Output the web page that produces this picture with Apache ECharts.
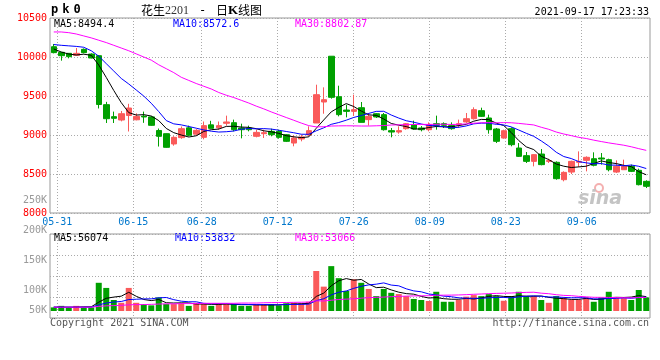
<!DOCTYPE html>
<html><head><meta charset="utf-8">
<script src="https://cdn.jsdelivr.net/npm/echarts@6.0.0/dist/echarts.min.js"></script>
<style>html,body{margin:0;padding:0;background:#fff}#c{width:660px;height:360px}</style>
</head><body><div id="c"></div><script>
const dates = ['05-28','05-31','06-01','06-02','06-03','06-04','06-07','06-08','06-09','06-10','06-11','06-15','06-16','06-17','06-18','06-21','06-22','06-23','06-24','06-25','06-28','06-29','06-30','07-01','07-02','07-05','07-06','07-07','07-08','07-09','07-12','07-13','07-14','07-15','07-16','07-19','07-20','07-21','07-22','07-23','07-26','07-27','07-28','07-29','07-30','08-02','08-03','08-04','08-05','08-06','08-09','08-10','08-11','08-12','08-13','08-16','08-17','08-18','08-19','08-20','08-23','08-24','08-25','08-26','08-27','08-30','08-31','09-01','09-02','09-03','09-06','09-07','09-08','09-09','09-10','09-13','09-14','09-15','09-16','09-17'];
const tickDates = ['05-31','06-15','06-28','07-12','07-26','08-09','08-23','09-06'];

const opens  = [10132,10060,10047,10021,10098,10038,10017,9389,9235,9192,9250,9195,9242,9232,9058,9017,8885,8966,9092,9011,8970,9130,9092,9150,9158,9090,9090,8983,9017,9047,9047,9004,8897,8949,9000,9154,9423,10010,9491,9320,9303,9350,9197,9273,9261,9056,9038,9081,9132,9090,9068,9145,9145,9120,9132,9167,9209,9312,9218,9077,8961,9081,8833,8735,8662,8756,8662,8650,8427,8525,8650,8675,8696,8705,8684,8525,8555,8598,8547,8406];
const closes = [10056,10017,10004,10047,10056,9987,9391,9209,9214,9273,9346,9239,9231,9124,8983,8842,8970,9081,8996,9060,9120,9085,9120,9167,9068,9068,9068,9034,9030,9004,8970,8919,8962,8975,9056,9517,9453,9483,9261,9303,9325,9162,9239,9231,9068,9038,9056,9145,9077,9068,9132,9124,9124,9081,9145,9209,9325,9239,9068,8919,9055,8876,8726,8662,8748,8620,8671,8440,8521,8662,8662,8714,8611,8692,8555,8598,8598,8534,8363,8342];
const lows   = [10047,9953,9983,10013,10047,9983,9340,9154,9154,9175,9045,9188,9156,9118,8852,8837,8863,8951,8981,8990,8945,9085,9068,9120,9047,8957,9047,8970,8962,8983,8953,8910,8855,8919,8983,9154,9273,9466,9239,9226,9244,9162,9120,9218,9056,8970,9017,9068,9068,9047,9047,9068,9090,9068,9090,9154,9197,9231,9017,8897,8953,8855,8718,8641,8598,8611,8641,8427,8406,8500,8590,8534,8598,8620,8534,8513,8555,8525,8354,8320];
const highs  = [10167,10064,10050,10115,10110,10047,10022,9425,9300,9308,9400,9278,9300,9245,9083,9020,8985,9109,9120,9075,9173,9182,9173,9248,9197,9145,9120,9068,9068,9081,9068,9013,8996,9004,9111,9645,9611,10010,9632,9389,9517,9423,9282,9282,9282,9090,9111,9154,9184,9115,9162,9248,9162,9162,9197,9282,9355,9350,9261,9090,9068,9098,8897,8782,8756,8820,8696,8662,8534,8671,8790,8726,8778,8769,8696,8675,8684,8620,8568,8419];

const ma5  = [10103,10064,10038,10026,10036,10022,9897,9738,9571,9415,9287,9256,9261,9243,9185,9084,9030,9000,8974,8990,9045,9068,9076,9110,9112,9102,9098,9081,9054,9041,9021,8991,8977,8966,8976,9086,9193,9297,9354,9403,9365,9307,9258,9252,9205,9148,9126,9108,9077,9077,9096,9109,9105,9106,9121,9137,9177,9200,9197,9152,9121,9031,8929,8848,8813,8726,8685,8628,8600,8583,8591,8600,8634,8668,8647,8634,8611,8595,8530,8490];
const ma10 = [10160,10150,10143,10136,10125,10080,10010,9915,9820,9725,9654,9577,9499,9407,9300,9185,9143,9130,9109,9087,9065,9049,9038,9042,9051,9074,9083,9079,9082,9076,9061,9045,9029,9010,9009,9054,9092,9137,9160,9190,9225,9250,9277,9303,9304,9256,9217,9183,9164,9141,9122,9118,9106,9091,9099,9116,9143,9152,9152,9137,9129,9104,9064,9022,8983,8924,8858,8779,8724,8698,8659,8643,8631,8634,8615,8613,8605,8615,8599,8570];
const ma30 = [10321,10321,10312,10295,10270,10245,10215,10185,10150,10115,10080,10040,10000,9960,9900,9850,9800,9740,9700,9660,9625,9590,9545,9510,9480,9445,9410,9370,9335,9296,9260,9224,9189,9153,9120,9104,9106,9115,9117,9118,9117,9115,9115,9118,9121,9128,9131,9133,9135,9136,9136,9137,9138,9135,9137,9142,9151,9157,9159,9156,9159,9157,9149,9139,9129,9099,9073,9038,9013,8992,8970,8955,8934,8916,8899,8884,8869,8849,8825,8803];

const volumes = [14000,20000,14000,20000,14000,14000,110000,90000,43000,32000,90000,32000,27000,22000,53000,27000,27000,30000,20000,32000,27000,20000,30000,27000,27000,20000,20000,25000,25000,27000,22000,30000,32000,30000,36000,156000,95000,175000,128000,78000,124000,110000,86000,58000,86000,71000,66000,58000,47000,43000,39000,75000,36000,36000,43000,56000,62000,58000,66000,58000,40000,58000,75000,58000,58000,43000,32000,58000,50000,43000,43000,53000,36000,53000,75000,50000,50000,43000,82000,53000];
const volMa5  = [15000,15000,15000,15000,16400,16400,34400,49600,54200,57800,73000,57400,44800,40600,44800,32200,31200,31800,31400,27200,27200,25800,25800,27200,26200,24800,24800,23800,23400,23400,23800,25800,27200,28200,30000,56800,69800,98400,118000,126400,120000,123000,105200,91200,92800,82200,73400,67800,65600,57000,50600,52400,48000,45800,45800,49200,46600,51000,57000,60000,56800,56000,59400,57800,57800,58400,53200,49800,48200,45200,45200,49400,45000,45600,52000,53400,52800,54200,60000,56074];
const volMa10 = [15000,15000,15000,15000,15000,15000,24000,31000,35000,37100,44700,45900,47200,47400,51300,52600,44300,38300,36000,36000,29700,28500,28800,29300,26700,26000,25300,24800,25300,24800,24300,25300,25500,25800,26700,40300,47800,62800,73100,78200,88400,96400,101800,104600,109600,101100,98200,86500,78400,74900,66400,62900,57900,55700,51400,49900,49500,49500,51400,52900,53000,51300,55200,57400,58900,57600,54600,54600,53000,51500,51800,51300,47400,46900,48600,49300,51100,49600,52800,53832];
const volMa30 = [15000,15000,15000,15000,15000,15000,18000,20000,21000,22000,24000,25000,25000,26000,27000,28000,28000,29000,29000,29000,30000,30000,30000,30000,30000,31000,31000,31000,32000,32600,32900,33200,33800,34200,34900,39600,39100,42000,44800,46300,47500,50100,52000,53200,54300,55800,57100,58000,58900,59300,59700,61500,61700,62000,62600,63800,65200,66300,67600,68700,69300,70200,71600,72600,73300,69500,67400,63500,60900,59800,57100,55200,53500,53300,53000,52300,51700,51200,52400,53066];

const priceMin = 8000, priceMax = 10500, priceStep = 500;
const volLabelMin = 50000, volLabelMax = 250000, volLabelStep = 50000;

const UP = '#fa5a5a', DOWN = '#00a000';
const MONO = '"DejaVu Sans Mono","Liberation Mono",monospace';
const GRIDC = '#aaaaaa';
const DOT = [1, 2];

const gridDates = dates.slice(1);
const isTick = (i) => tickDates.indexOf(gridDates[i]) >= 0;
const candleData = dates.map((d, i) => [opens[i], closes[i], lows[i], highs[i]]);
const volData = volumes.map((v, i) => ({ value: v, itemStyle: { color: closes[i] >= opens[i] ? UP : DOWN } }));

const chart = echarts.init(document.getElementById('c'), null, { renderer: 'canvas' });
const line = (name, data, color, xi, yi) => ({
  name, type: 'line', data, xAxisIndex: xi, yAxisIndex: yi, symbol: 'none', silent: true,
  lineStyle: { color, width: 1 }, itemStyle: { color }, z: 5, animation: false
});

chart.setOption({
  animation: false,
  backgroundColor: '#ffffff',
  grid: [
    { left: 50, top: 18, width: 600, height: 195, show: true, borderColor: '#999', borderWidth: 1 },
    { left: 50, top: 234, width: 600, height: 84, show: true, borderColor: '#999', borderWidth: 1 },
    { left: 57.3, top: 18, width: 592.8, height: 195 },
    { left: 57.3, top: 234, width: 592.8, height: 84 },
    { left: 50, top: 200.7, width: 600, height: 120 }
  ],
  xAxis: [
    { type: 'category', gridIndex: 0, data: dates, boundaryGap: true, axisLine: { show: false }, axisTick: { show: false }, axisLabel: { show: false }, splitLine: { show: false } },
    { type: 'category', gridIndex: 1, data: dates, boundaryGap: true, axisLine: { show: false }, axisTick: { show: false }, axisLabel: { show: false }, splitLine: { show: false } },
    { type: 'category', gridIndex: 2, data: gridDates, boundaryGap: false, axisLine: { show: false }, axisTick: { show: false },
      axisLabel: { show: true, interval: (i) => isTick(i), color: '#0077cc', fontFamily: MONO, fontSize: 10, margin: 4, hideOverlap: false },
      splitLine: { show: true, interval: (i) => isTick(i), lineStyle: { color: GRIDC, type: DOT, width: 1 } } },
    { type: 'category', gridIndex: 3, data: gridDates, boundaryGap: false, axisLine: { show: false }, axisTick: { show: false }, axisLabel: { show: false },
      splitLine: { show: true, interval: (i) => isTick(i), lineStyle: { color: GRIDC, type: DOT, width: 1 } } },
    { type: 'category', gridIndex: 4, data: dates, show: false }
  ],
  yAxis: [
    { type: 'value', gridIndex: 0, min: priceMin, max: priceMax, interval: priceStep, axisLine: { show: false }, axisTick: { show: false },
      axisLabel: { color: '#ff0000', fontFamily: MONO, fontSize: 10, margin: 3, padding: [0, 0, 3, 0], formatter: (v) => String(v) },
      splitLine: { show: true, lineStyle: { color: GRIDC, type: DOT, width: 1 } } },
    { type: 'value', gridIndex: 1, min: -27300, max: 300300, interval: 81900, axisLine: { show: false }, axisTick: { show: false }, axisLabel: { show: false },
      splitLine: { show: true, lineStyle: { color: GRIDC, type: DOT, width: 1 } } },
    { type: 'value', gridIndex: 2, min: 0, max: 1, show: false },
    { type: 'value', gridIndex: 3, min: 0, max: 1, show: false },
    { type: 'value', gridIndex: 4, min: volLabelMin, max: volLabelMax, interval: volLabelStep, axisLine: { show: false }, axisTick: { show: false },
      splitLine: { show: false },
      axisLabel: { color: '#999999', fontFamily: MONO, fontSize: 10, margin: 3,
        formatter: (v) => v === volLabelMin ? '{u|' + (v / 1000) + 'K}' : (v / 1000) + 'K',
        rich: { u: { color: '#999999', fontFamily: MONO, fontSize: 10, padding: [0, 0, 21, 0] } } } }
  ],
  series: [
    { name: 'K', type: 'candlestick', data: candleData, xAxisIndex: 0, yAxisIndex: 0, barWidth: 6, silent: true,
      itemStyle: { color: UP, color0: DOWN, borderColor: UP, borderColor0: DOWN, borderWidth: 1 }, z: 3 },
    line('MA5', ma5, '#000000', 0, 0),
    line('MA10', ma10, '#0000ff', 0, 0),
    line('MA30', ma30, '#ff00ff', 0, 0),
    { name: 'VOL', type: 'bar', data: volData, xAxisIndex: 1, yAxisIndex: 1, barWidth: 6, silent: true, z: 3 },
    line('VMA5', volMa5, '#000000', 1, 1),
    line('VMA10', volMa10, '#0000ff', 1, 1),
    line('VMA30', volMa30, '#ff00ff', 1, 1)
  ],
  graphic: [
    { type: 'text', left: 51, top: 4, style: { text: '{c|p}{c|k}{c|0}', rich: { c: { width: 11.2, fontFamily: MONO, fontWeight: 'bold', fontSize: 12, fill: '#000' } } } },
    { type: 'text', left: 141, top: 4, style: { text: '{c|花生}{n|2201}{g|-}{c|日}{k|K}{c|线图}',
      rich: { c: { fontFamily: '"Noto Sans CJK SC"', fontSize: 12, fill: '#000' },
              n: { fontFamily: '"Liberation Serif"', fontSize: 12, fill: '#333' },
              g: { fontFamily: MONO, fontSize: 12, width: 27, align: 'center', fill: '#000' },
              k: { fontFamily: '"Liberation Serif"', fontWeight: 'bold', fontSize: 13, fill: '#000' } } } },
    { type: 'text', right: 11, top: 7, style: { text: '2021-09-17 17:23:33', fontFamily: MONO, fontSize: 10, fill: '#000' } },
    { type: 'text', left: 54, top: 19, style: { text: 'MA5:8494.4', fontFamily: MONO, fontSize: 10, fill: '#000' } },
    { type: 'text', left: 173, top: 19, style: { text: 'MA10:8572.6', fontFamily: MONO, fontSize: 10, fill: '#0000ff' } },
    { type: 'text', left: 295, top: 19, style: { text: 'MA30:8802.87', fontFamily: MONO, fontSize: 10, fill: '#ff00ff' } },
    { type: 'text', left: 54, top: 233, style: { text: 'MA5:56074', fontFamily: MONO, fontSize: 10, fill: '#000' } },
    { type: 'text', left: 175, top: 233, style: { text: 'MA10:53832', fontFamily: MONO, fontSize: 10, fill: '#0000ff' } },
    { type: 'text', left: 295, top: 233, style: { text: 'MA30:53066', fontFamily: MONO, fontSize: 10, fill: '#ff00ff' } },
    { type: 'text', left: 50, top: 318, style: { text: 'Copyright 2021 SINA.COM', fontFamily: MONO, fontSize: 10, fill: '#555' } },
    { type: 'text', right: 11, top: 318, style: { text: 'http://finance.sina.com.cn', fontFamily: MONO, fontSize: 10, fill: '#555' } },
    { type: 'circle', shape: { cx: 599, cy: 188, r: 4 }, style: { fill: 'none', stroke: '#f4b0b0', lineWidth: 2 }, z: 1 },
    { type: 'text', left: 578, top: 190, z: 1, style: { text: 'sina', fontFamily: '"DejaVu Sans"', fontStyle: 'italic', fontWeight: 'bold', fontSize: 19, fill: '#c4c4c4' } }
  ]
});
</script></body></html>
